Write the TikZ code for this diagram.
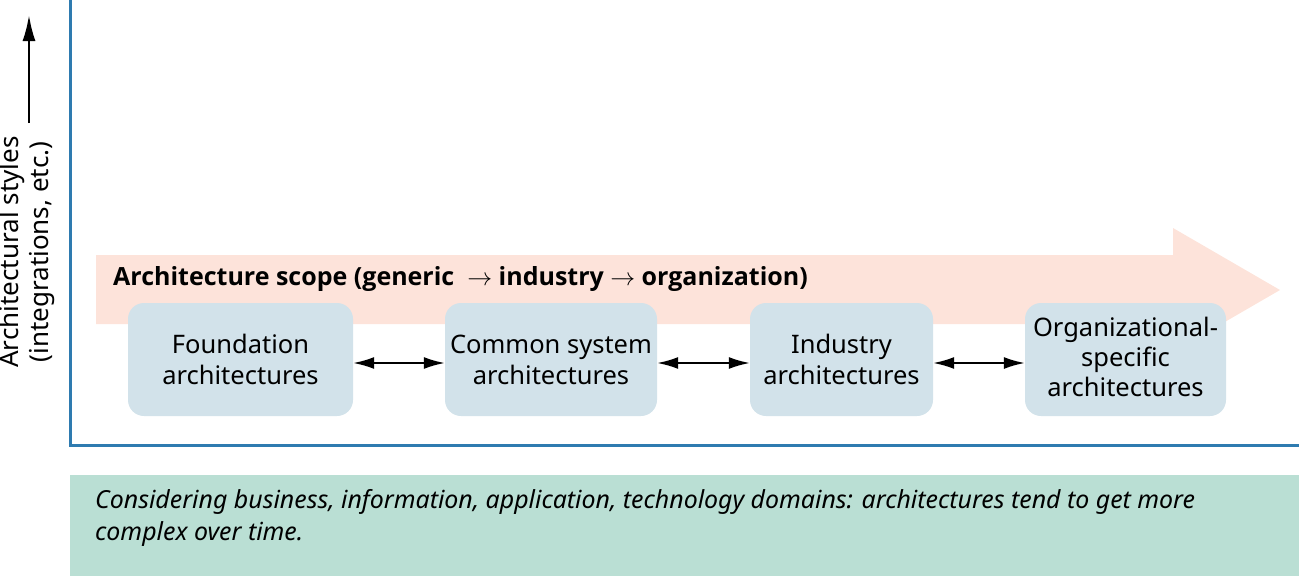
\documentclass[tikz,border=0pt]{standalone}
\usepackage{fontspec}
\setmainfont{Noto Sans}
\newfontfamily\titlefont{Open Sans}
\usetikzlibrary{arrows.meta}
\definecolor{peach}{RGB}{253,227,218}
\definecolor{boxblue}{RGB}{210,226,234}
\definecolor{axisblue}{RGB}{46,123,176}
\definecolor{notegreen}{RGB}{186,223,212}
\tikzset{
  archbox/.style={fill=boxblue, rounded corners=16pt, align=center, inner sep=0pt,
    font=\fontsize{25.5}{31}\selectfont},
  dbl/.style={{Latex[length=21pt,width=12pt]}-{Latex[length=21pt,width=12pt]}, line width=1.9pt},
  axis/.style={draw=axisblue, line width=3pt},
}
\begin{document}
\begin{tikzpicture}[x=1pt,y=-1pt]
\useasboundingbox (0,0) rectangle (1299,576);
% bottom note
\fill[notegreen] (70,475) rectangle (1299,576);
\node[anchor=north west, align=left, inner sep=0pt, font=\fontsize{24.9}{32}\selectfont\itshape] (note) at (95,489)
  {Considering business, information, application, technology domains: architectures tend to get more\\complex over time.};
% axes
\draw[axis] (70,0) -- (70,445) -- (1299,445);
% y-axis label
\draw[-{Latex[length=26pt,width=13pt]}, line width=2.4pt] (29,123) coordinate (ys) -- (29,15) coordinate (ye);
\node[rotate=90, align=center, inner sep=0pt, font=\fontsize{26}{30}\selectfont] (ylab) at (27,252)
  {Architectural styles\\(integrations, etc.)};
% big scope arrow
\fill[peach] (96,255) -- (1173,255) -- (1173,228) -- (1280,290) -- (1173,352) -- (1173,324) -- (96,324) -- cycle;
\node[anchor=base west, inner sep=0pt, font=\fontsize{25}{30}\titlefont\bfseries] (scope) at (113,285)
  {Architecture scope (generic \ $\rightarrow$ industry $\rightarrow$ organization)};
% boxes
\node[archbox, minimum width=225pt, minimum height=113pt] (a) at (240.5,359.5) {Foundation\\architectures};
\node[archbox, minimum width=212pt, minimum height=113pt] (b) at (551,359.5) {Common system\\architectures};
\node[archbox, minimum width=183pt, minimum height=113pt] (c) at (841.5,359.5) {Industry\\architectures};
\node[archbox, minimum width=201pt, minimum height=113pt] (d) at (1125.5,359.5) {};
\node[align=center, inner sep=0pt, font=\fontsize{25.5}{30}\selectfont] (dtext) at (1125.5,356.5) {Organizational-\\specific\\architectures};
% connectors
\draw[dbl] ([yshift=-3.5pt]a.east) -- ([yshift=-3.5pt]b.west);
\draw[dbl] ([yshift=-3.5pt]b.east) -- ([yshift=-3.5pt]c.west);
\draw[dbl] ([yshift=-3.5pt]c.east) -- ([yshift=-3.5pt]d.west);
\end{tikzpicture}
\end{document}
